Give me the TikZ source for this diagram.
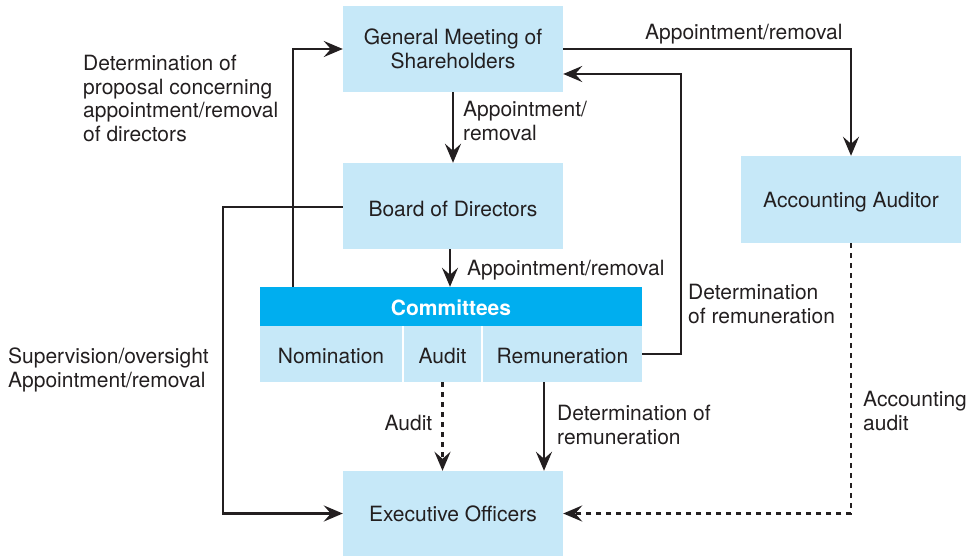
\documentclass[tikz,border=0pt]{standalone}
\usepackage{fontspec}
\setmainfont{TeX Gyre Heros}
\usetikzlibrary{arrows.meta}
\definecolor{boxblue}{HTML}{C6E8F8}
\definecolor{headblue}{HTML}{00AEEF}
\definecolor{ink}{HTML}{231F20}
\begin{document}
\begin{tikzpicture}[x=1pt,y=-1pt,
  every node/.style={font=\fontsize{21}{23.5}\selectfont, text=ink},
  box/.style={fill=boxblue, inner sep=0pt, minimum width=220pt, align=center},
  cell/.style={fill=boxblue, inner sep=0pt, minimum height=56pt, text height=18.5pt, text depth=0pt},
  arr/.style={draw=ink, line width=2.7pt, -{Stealth[length=19pt,width=16pt,inset=7pt]}},
  dsh/.style={arr, dash pattern=on 5pt off 5pt},
  lbl/.style={inner sep=0pt, align=left, anchor=west},
]
\useasboundingbox (0,0) rectangle (977,556);

% boxes
\node[box, minimum height=86pt] (gms) at (453,49) {General Meeting of\\Shareholders};
\node[box, minimum height=86pt, text height=21pt, text depth=0pt] (board) at (453,206) {Board of Directors};
\node[box, minimum height=87pt, text height=15.3pt, text depth=0pt] (aa) at (851,199.5) {Accounting Auditor};
\node[box, minimum height=85pt, text height=16pt, text depth=0pt] (exec) at (453,513.5) {Executive Officers};
\node[fill=headblue, inner sep=0pt, minimum width=382pt, minimum height=39pt,
      text height=17pt, text depth=0pt,
      text=white, font=\fontsize{21}{23.5}\selectfont\bfseries] (com) at (451,306.5) {Committees};
\node[cell, minimum width=142pt] (nom) at (331,354) {Nomination};
\node[cell, minimum width=77pt] (aud) at (442.5,354) {Audit};
\node[cell, minimum width=159pt] (rem) at (562.5,354) {Remuneration};

% helper coordinates
\coordinate (remc) at (681,74);
\coordinate (comin) at (450,0);
\coordinate (nomup) at (293,0);
\coordinate (bl) at (223,207);
\coordinate (rs) at (544,0);

% connectors
\draw[arr] (gms.east) -| (aa.north);
\draw[arr] (rem.east) -| (remc) -- (remc -| gms.east);
\draw[arr] (gms.south) -- (board.north);
\draw[arr] (board.south -| comin) -- (com.north -| comin);
\draw[arr] (com.north -| nomup) |- (gms.west);
\draw[arr] (bl -| board.west) -- (bl) |- (exec.west);
\draw[dsh] (aud.south) -- (aud.south |- exec.north);
\draw[arr] (rem.south -| rs) -- (exec.north -| rs);
\draw[dsh] (aa.south) |- (exec.east);

% labels
\node[lbl] (t1) at (645,34) {Appointment/removal};
\node[lbl] (t2) at (463,121) {Appointment/\\removal};
\node[lbl] (t3) at (467,270) {Appointment/removal};
\node[lbl] (t4) at (83,98.5) {Determination of\\proposal concerning\\appointment/removal\\of directors};
\node[lbl] (t5) at (688,304) {Determination\\of remuneration};
\node[lbl] (t6) at (863,411) {Accounting\\audit};
\node[lbl] (t7) at (557,425) {Determination of\\remuneration};
\node[inner sep=0pt, anchor=east] (t8) at (432.5,423.5) {Audit};
\node[lbl] (t9) at (8,370) {Supervision/oversight\\Appointment/removal};
\end{tikzpicture}
\end{document}
